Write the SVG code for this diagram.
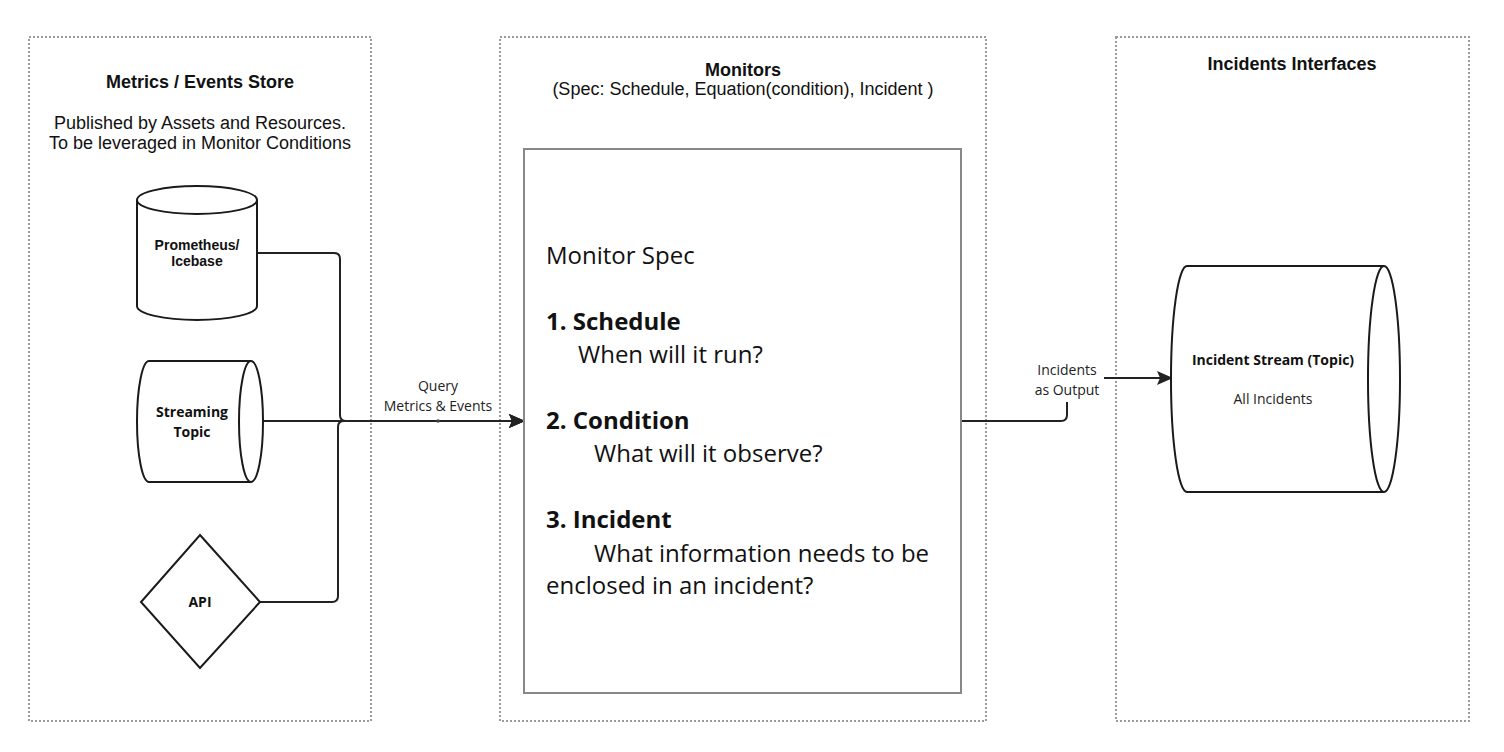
<svg xmlns="http://www.w3.org/2000/svg" width="1504" height="752" viewBox="0 0 1504 752">
<style>
.grp{fill:none;stroke:#9a9a9a;stroke-width:2;stroke-dasharray:2 2}
.shape{fill:#fff;stroke:#1a1a1a;stroke-width:2}
.conn{fill:none;stroke:#222;stroke-width:2}
.title{font-family:"Liberation Sans",Arial,sans-serif;font-weight:bold;font-size:18px;fill:#111;text-anchor:middle}
.sub{font-family:"Liberation Sans",Arial,sans-serif;font-size:18px;fill:#111;text-anchor:middle}
.nlabel{font-family:"Open Sans",sans-serif;font-weight:bold;font-size:14px;fill:#111;text-anchor:middle}
.nlabelA{font-family:"Liberation Sans",Arial,sans-serif;font-weight:bold;font-size:14px;fill:#111;text-anchor:middle}
.elabel{font-family:"Open Sans",sans-serif;font-size:14px;fill:#222;text-anchor:middle}
.spec{font-family:"Open Sans",sans-serif;font-size:24px;fill:#111}
.specb{font-family:"Open Sans",sans-serif;font-size:24px;font-weight:bold;fill:#111}
</style>
<defs>
<marker id="arr" markerWidth="16" markerHeight="14" refX="15" refY="7" orient="auto" markerUnits="userSpaceOnUse">
<path d="M0,0 L16,7 L0,14 L3,7 Z" fill="#222"/>
</marker>
</defs>
<rect width="1504" height="752" fill="#fff"/>

<g id="group-metrics">
<rect class="grp" x="29" y="37" width="342" height="684"/>
<text class="title" x="200" y="88">Metrics / Events Store</text>
<text class="sub" x="200" y="129">Published by Assets and Resources.</text>
<text class="sub" x="200" y="149">To be leveraged in Monitor Conditions</text>
</g>

<g id="group-monitors">
<rect class="grp" x="500" y="37" width="486" height="684"/>
<text class="title" x="743" y="76">Monitors</text>
<text class="sub" x="743" y="95">(Spec: Schedule, Equation(condition), Incident )</text>
</g>

<g id="group-incidents">
<rect class="grp" x="1116" y="37" width="353" height="684"/>
<text class="title" x="1292" y="70">Incidents Interfaces</text>
</g>

<g id="connectors">
<path class="conn" d="M257,253 H334 Q340,253 340,259 V415 Q340,421 346,421 H524" marker-end="url(#arr)"/>
<path class="conn" d="M263,421 H524" marker-end="url(#arr)"/>
<path class="conn" d="M260,602 H332 Q338,602 338,596 V427 Q338,421 344,421 H524" marker-end="url(#arr)"/>
<circle cx="438" cy="421" r="1.8" fill="#444"/>
<text class="elabel" x="438" y="391">Query</text>
<text class="elabel" x="438" y="411">Metrics &amp; Events</text>
<path class="conn" d="M961,421 H1061 Q1067,421 1067,415 V384 Q1067,378 1073,378 H1172" marker-end="url(#arr)"/>
<rect x="1028" y="358" width="76" height="44" fill="#fff"/>
<text class="elabel" x="1067" y="375">Incidents</text>
<text class="elabel" x="1067" y="395">as Output</text>
</g>

<g id="node-prometheus">
<path class="shape" d="M137,200 V306 A60,14 0 0 0 257,306 V200"/>
<ellipse class="shape" cx="197" cy="200" rx="60" ry="14"/>
<text class="nlabelA" x="197" y="250">Prometheus/</text>
<text class="nlabelA" x="197" y="266">Icebase</text>
</g>

<g id="node-streaming">
<path class="shape" d="M251,361 H149 A12,60.5 0 0 0 149,482 H251"/>
<ellipse class="shape" cx="251" cy="421.5" rx="12" ry="60.5"/>
<text class="nlabel" x="192" y="417">Streaming</text>
<text class="nlabel" x="192" y="437">Topic</text>
</g>

<g id="node-api">
<polygon class="shape" points="200,535 260,602 200,668 141,602"/>
<text class="nlabel" x="200" y="607">API</text>
</g>

<g id="node-monitor-spec">
<rect x="524" y="149" width="437" height="544" fill="#fff" stroke="#888" stroke-width="2"/>
<text class="spec" x="546" y="264">Monitor Spec</text>
<text class="specb" x="546" y="330">1. Schedule</text>
<text class="spec" x="578" y="363">When will it run?</text>
<text class="specb" x="546" y="429">2. Condition</text>
<text class="spec" x="594" y="462">What will it observe?</text>
<text class="specb" x="546" y="528">3. Incident</text>
<text class="spec" x="594" y="562">What information needs to be</text>
<text class="spec" x="546" y="594">enclosed in an incident?</text>
</g>

<g id="node-incident-stream">
<path class="shape" d="M1384,266 H1187 A16,113 0 0 0 1187,492 H1384"/>
<ellipse class="shape" cx="1384" cy="379" rx="16" ry="113"/>
<text class="nlabel" x="1273" y="365">Incident Stream (Topic)</text>
<text class="elabel" x="1273" y="404">All Incidents</text>
</g>
</svg>
